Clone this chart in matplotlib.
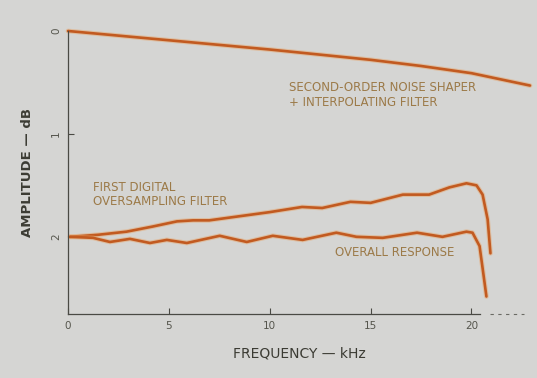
import matplotlib
matplotlib.use("Agg")
import matplotlib.pyplot as plt
import numpy as np

# ---- data (dB attenuation, plotted downward) ----
shaper_khz = [0.0, 2.5, 5.0, 7.5, 10.0, 12.5, 15.0, 17.5, 20.0, 22.9]
shaper_db = [0.0, 0.045, 0.09, 0.135, 0.18, 0.23, 0.28, 0.34, 0.41, 0.53]

first_khz = [0.1, 1.5, 2.9, 4.2, 5.4, 6.2, 7.0, 8.5, 10.0, 11.6, 12.6, 14.0, 15.0,
             16.6, 17.9, 18.9, 19.75, 20.25, 20.55, 20.8, 20.94]
first_db = [2.0, 1.98, 1.95, 1.90, 1.85, 1.84, 1.84, 1.80, 1.76, 1.71, 1.72, 1.66, 1.67,
            1.59, 1.59, 1.52, 1.48, 1.50, 1.59, 1.83, 2.16]

overall_khz = [0.1, 1.24, 2.08, 3.07, 4.06, 4.9, 5.89, 7.52, 8.86, 10.15, 11.63, 13.3,
               14.3, 15.6, 17.3, 18.56, 19.75, 20.05, 20.4, 20.54, 20.74]
overall_db = [2.0, 2.01, 2.05, 2.02, 2.06, 2.03, 2.06, 1.99, 2.05, 1.99, 2.03, 1.96,
              2.0, 2.01, 1.96, 2.0, 1.95, 1.96, 2.09, 2.29, 2.58]

x_ticks = [0, 5, 10, 15, 20]
x_tick_labels = ["0", "5", "10", "15", "20"]
y_ticks = [0, 1, 2]
y_tick_labels = ["0", "1", "2"]

bg = "#d5d5d3"
line_c = "#c25a20"
text_c = "#3c3c34"
note_c = "#9c7a48"

fig = plt.figure(figsize=(5.37, 3.78), dpi=100, facecolor=bg)
ax = fig.add_axes([68/537, 1-314/378, 462/537, 283/378], facecolor=bg)

for xs, ys in [(shaper_khz, shaper_db), (first_khz, first_db), (overall_khz, overall_db)]:
    ax.plot(xs, ys, color="#e8a060", lw=3.4, alpha=0.45, clip_on=False,
            solid_capstyle="round", solid_joinstyle="round")
    ax.plot(xs, ys, color=line_c, lw=1.9, clip_on=False,
            solid_capstyle="round", solid_joinstyle="round")

ax.set_xlim(0, 22.9)
ax.set_ylim(2.75, 0)

for s in ["top", "right"]:
    ax.spines[s].set_visible(False)
ax.spines["left"].set_color("#4a4a44")
ax.spines["bottom"].set_color("#4a4a44")
ax.spines["left"].set_linewidth(0.9)
ax.spines["bottom"].set_linewidth(0.9)
ax.spines["bottom"].set_bounds(0, 20.4)
ax.plot([20.9, 22.6], [2.75, 2.75], color="#6a6a64", lw=0.8, ls=(0, (3, 4)), clip_on=False)

ax.set_xticks(x_ticks)
ax.set_xticklabels(x_tick_labels)
ax.set_yticks(y_ticks)
ax.set_yticklabels(y_tick_labels, rotation=90, va="center")
ax.tick_params(axis="both", direction="in", length=4, width=0.8, colors="#4a4a44",
               labelcolor="#55554c", labelsize=7.5)
ax.tick_params(axis="x", pad=5)
ax.tick_params(axis="y", pad=5)

ax.set_xlabel("FREQUENCY — kHz", fontsize=10, color=text_c, labelpad=11)
ax.set_ylabel("AMPLITUDE — dB", fontsize=9.5, color=text_c, labelpad=12, fontweight="bold")

ax.text(10.95, 0.62, "SECOND-ORDER NOISE SHAPER\n+ INTERPOLATING FILTER", fontsize=8.5,
        color=note_c, va="center", ha="left", linespacing=1.15)
ax.text(1.25, 1.59, "FIRST DIGITAL\nOVERSAMPLING FILTER", fontsize=8.5,
        color=note_c, va="center", ha="left", linespacing=1.15)
ax.text(13.25, 2.15, "OVERALL RESPONSE", fontsize=8.5, color=note_c, va="center", ha="left")

fig.savefig("out.png", dpi=100, facecolor=bg)
